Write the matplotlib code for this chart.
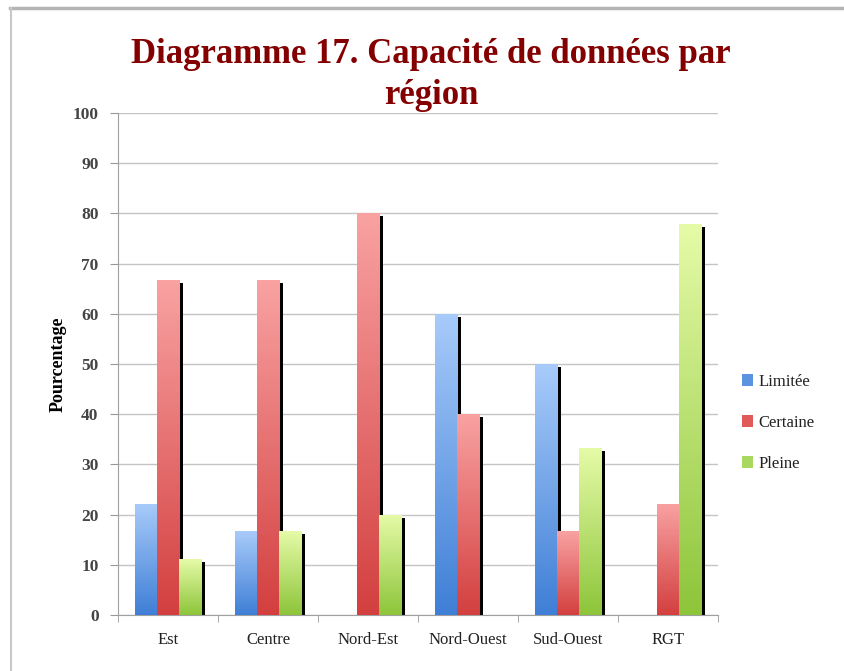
import numpy as np
import matplotlib
matplotlib.use("Agg")
import matplotlib.pyplot as plt
from matplotlib.patches import Patch
from matplotlib.colors import LinearSegmentedColormap
from matplotlib.lines import Line2D

regions = ["Est", "Centre", "Nord-Est", "Nord-Ouest", "Sud-Ouest", "RGT"]
limitee = [22.2, 16.7, 0, 60, 50, 0]
certaine = [66.7, 66.7, 80, 40, 16.7, 22.2]
pleine = [11.1, 16.7, 20, 0, 33.3, 77.8]
series = ["Limitée", "Certaine", "Pleine"]

# (top colour, bottom colour) of each series gradient
grads = [("#a8cbfa", "#3f7fd6"), ("#f9a2a2", "#d33f3f"), ("#e6fba8", "#8dc53a")]
legend_cols = ["#5a93e0", "#e05a5a", "#a8d860"]

fig = plt.figure(figsize=(8.45, 6.71), dpi=100)
ax = fig.add_axes([0.1396, 0.0835, 0.7104, 0.7481])

# thin frame lines at top and left, like the screenshot
fig.add_artist(Line2D([0.012, 1.0], [0.988, 0.988], transform=fig.transFigure, color="#b5b5b5", lw=2.5))
fig.add_artist(Line2D([0.013, 0.013], [0.0, 0.988], transform=fig.transFigure, color="#c8c8c8", lw=1.5))

x = np.arange(len(regions))
w = 0.22
grad_img = np.linspace(1, 0, 256).reshape(-1, 1)

for i, vals in enumerate([limitee, certaine, pleine]):
    pos = x + (i - 1) * w
    # drop shadow
    ax.bar(pos + 0.04, [max(v - 0.6, 0) for v in vals], w, color="black",
           zorder=2, linewidth=0)
    bars = ax.bar(pos, vals, w, color="none", linewidth=0, zorder=3)
    cmap = LinearSegmentedColormap.from_list("g%d" % i, [grads[i][1], grads[i][0]])
    for b, v in zip(bars, vals):
        if v <= 0:
            continue
        x0 = b.get_x()
        im = ax.imshow(grad_img, extent=[x0, x0 + w, 0, v], aspect="auto",
                       cmap=cmap, zorder=3 + i * 0.1, origin="upper")
        im.set_clip_path(b)
        b.set_zorder(3 + i * 0.1)

ax.set_xlim(-0.5, len(regions) - 0.5)
ax.set_ylim(0, 100)
ax.set_yticks(range(0, 101, 10))
ax.set_xticks(x)
ax.set_xticklabels(regions, fontfamily="Liberation Serif", fontsize=12, color="#222222")
ax.set_xticks(np.arange(-0.5, len(regions)), minor=True)
ax.tick_params(axis="x", which="major", length=0, pad=12)
ax.tick_params(axis="x", which="minor", length=5, color="#999999", direction="out")
ax.tick_params(axis="y", length=6, color="#999999", pad=8)
for lab in ax.get_yticklabels():
    lab.set_fontfamily("Liberation Serif")
    lab.set_fontsize(12.5)
    lab.set_fontweight("bold")
    lab.set_color("#444444")

ax.yaxis.grid(True, color="#c4c4c4", lw=1)
ax.set_axisbelow(True)
for s in ["top", "right"]:
    ax.spines[s].set_visible(False)
ax.spines["left"].set_color("#a0a0a0")
ax.spines["bottom"].set_color("#a0a0a0")

ax.set_ylabel("Pourcentage", fontfamily="Liberation Serif", fontweight="bold",
              fontsize=13, labelpad=4)

fig.text(0.51, 0.888, "Diagramme 17. Capacité de données par\nrégion", ha="center",
         va="center", fontfamily="Liberation Serif", fontweight="bold", fontsize=25,
         color="#840000", linespacing=1.3)

handles = [Patch(facecolor=c, edgecolor="none") for c in legend_cols]
leg = fig.legend(handles, series, loc="center left", bbox_to_anchor=(0.86, 0.37),
                 frameon=False, handlelength=0.7, handleheight=0.7, handletextpad=0.3,
                 labelspacing=1.5, prop={"family": "Liberation Serif", "size": 12})
for t in leg.get_texts():
    t.set_color("#222222")

fig.savefig("out.png", dpi=100)
